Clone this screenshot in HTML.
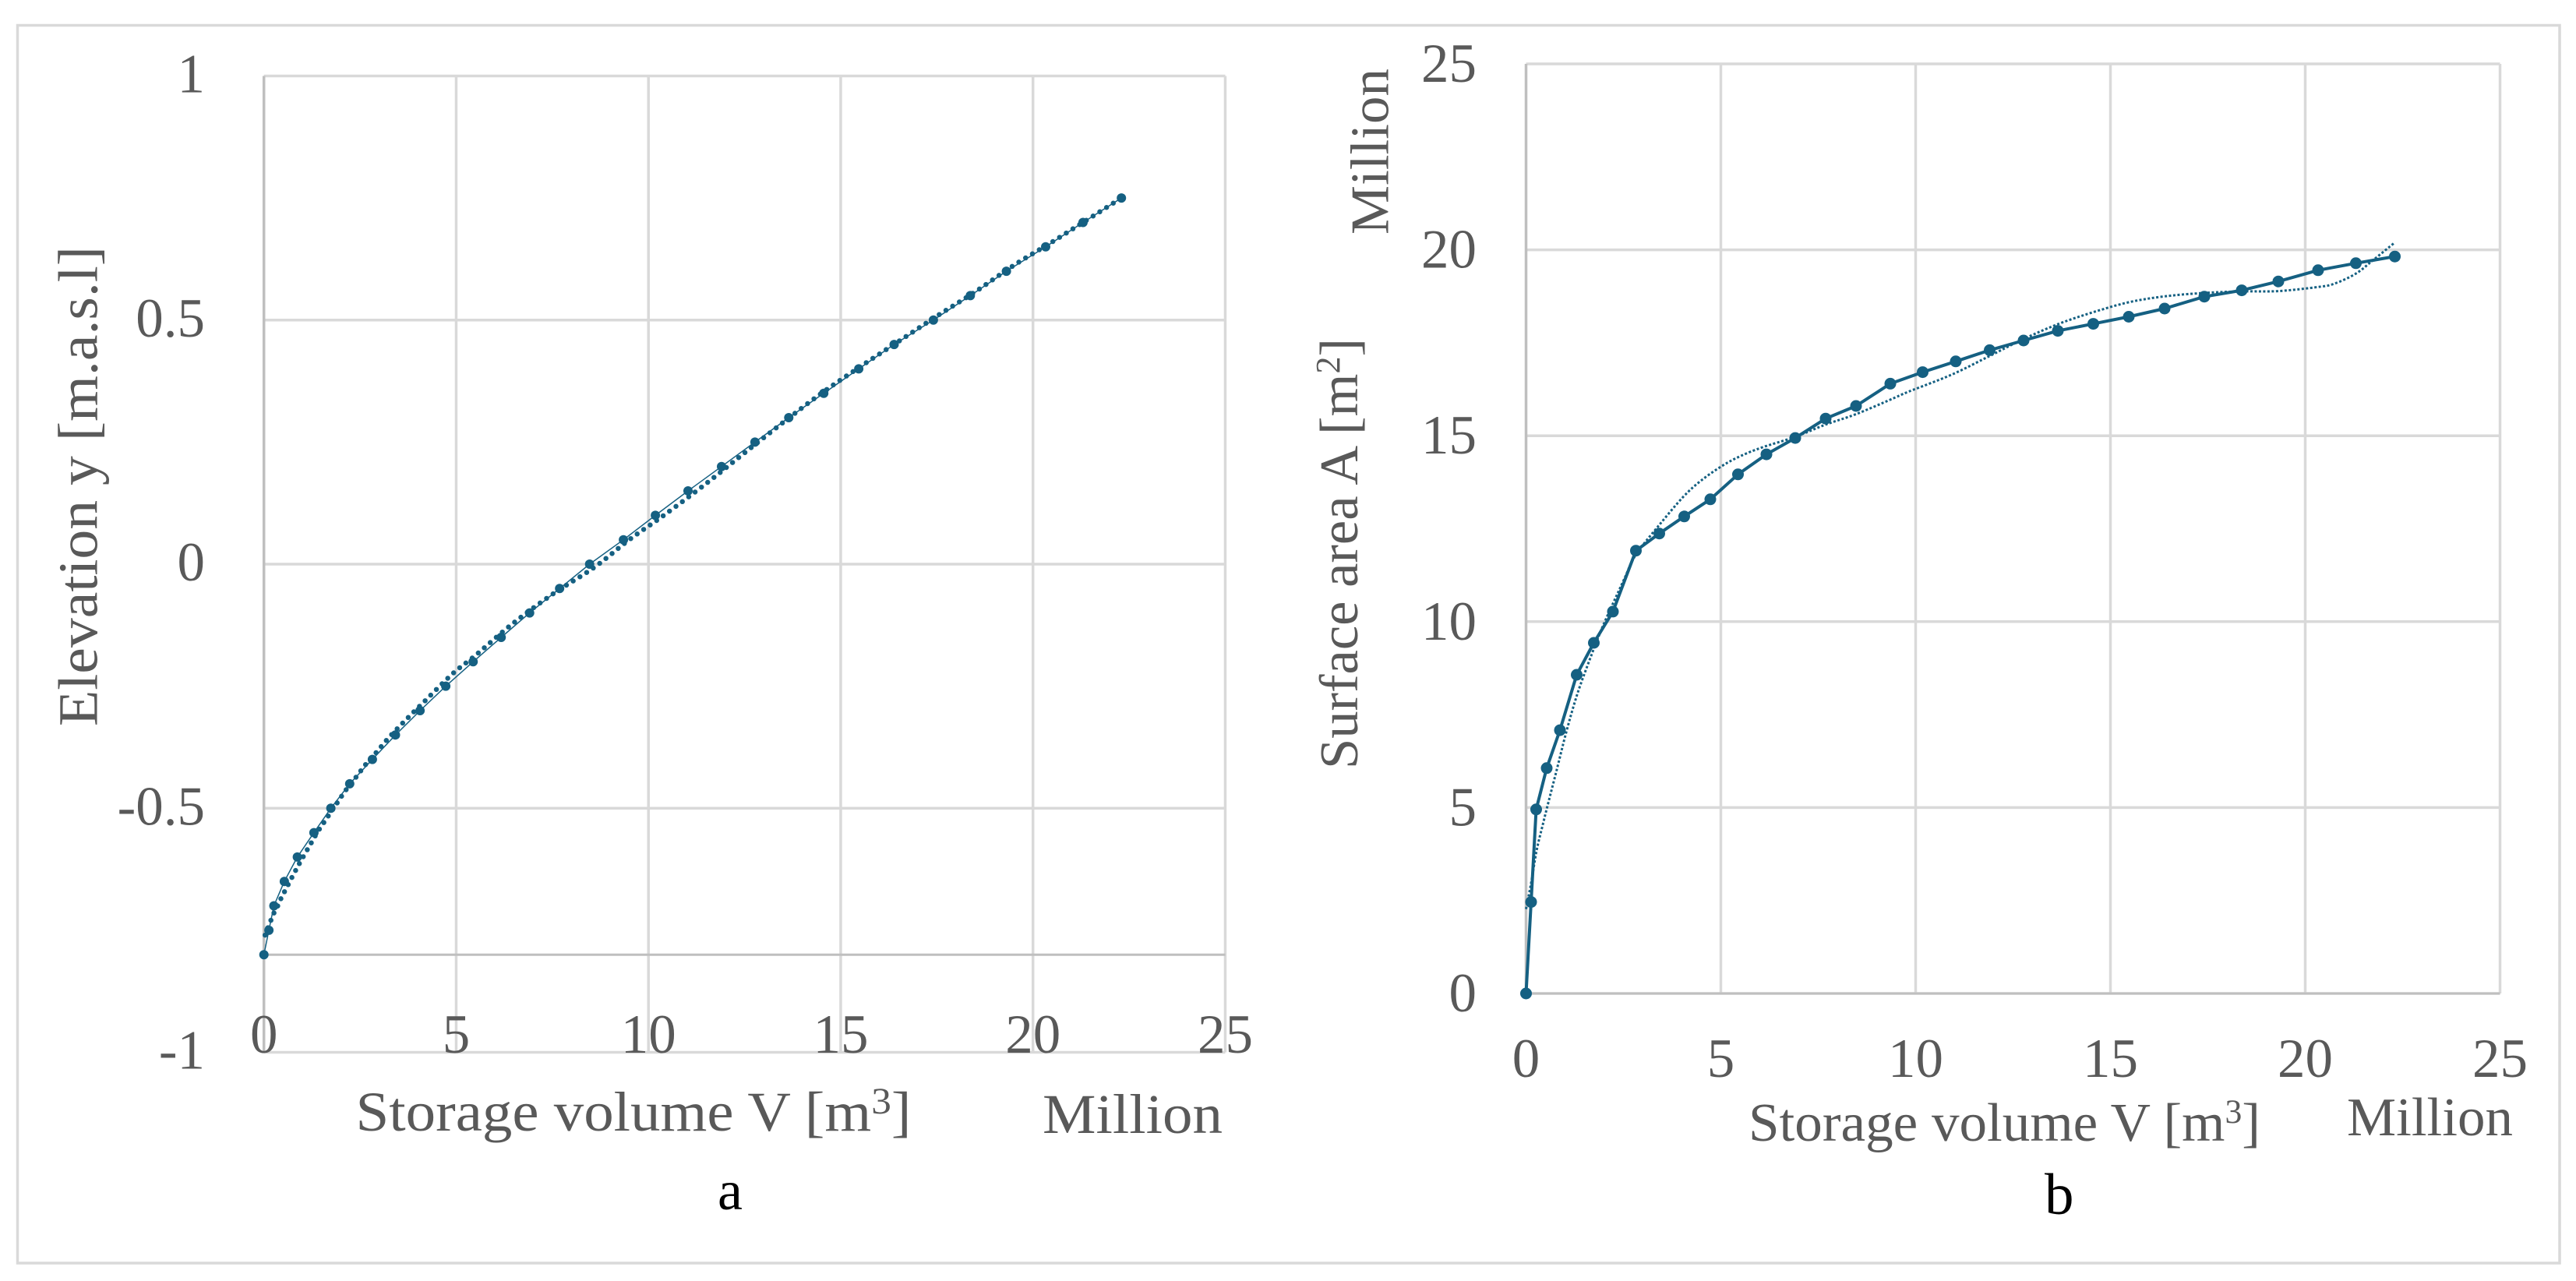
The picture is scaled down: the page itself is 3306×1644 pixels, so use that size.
<!DOCTYPE html>
<html lang="en">
<head>
<meta charset="utf-8">
<title>Storage volume curves</title>
<style>
html,body{margin:0;padding:0;background:#fff;}
svg{display:block;}
text{font-family:"Liberation Serif",serif;fill:#595959;}
</style>
</head>
<body>
<svg id="figure" xmlns="http://www.w3.org/2000/svg" width="3306" height="1644" viewBox="0 0 3306 1644">
  <rect x="0" y="0" width="3306" height="1644" fill="#fff"/>
  <rect x="22.5" y="32.5" width="3262.5" height="1588.5" fill="none" stroke="#d9d9d9" stroke-width="3.5"/>
  <g id="panelA"></g>
  <g id="panelB"></g>

  <text x="456.5" y="1451" font-size="72" textLength="713" lengthAdjust="spacingAndGlyphs">Storage volume V [m<tspan dy="-22" font-size="48">3</tspan><tspan dy="22">]</tspan></text>
  <text x="1338" y="1454" font-size="72" textLength="231" lengthAdjust="spacingAndGlyphs">Million</text>
  <text transform="translate(124.5,932) rotate(-90)" font-size="72" textLength="616" lengthAdjust="spacingAndGlyphs">Elevation y [m.a.s.l]</text>
  <text x="921" y="1552" font-size="72" style="fill:#000">a</text>

  <text x="2244" y="1464" font-size="70" textLength="657" lengthAdjust="spacingAndGlyphs">Storage volume V [m<tspan dy="-23" font-size="43">3</tspan><tspan dy="23">]</tspan></text>
  <text x="3012" y="1457" font-size="70" textLength="213" lengthAdjust="spacingAndGlyphs">Million</text>
  <text transform="translate(1742,987) rotate(-90)" font-size="70" textLength="553" lengthAdjust="spacingAndGlyphs">Surface area A [m<tspan dy="-23" font-size="44">2</tspan><tspan dy="23">]</tspan></text>
  <text transform="translate(1781.5,301) rotate(-90)" font-size="70" textLength="213" lengthAdjust="spacingAndGlyphs">Million</text>
  <text x="2624" y="1558" font-size="75" style="fill:#000">b</text>
</svg>
<script>
// Shared x values (million m3)
var volume = [0,0.13,0.26,0.53,0.87,1.3,1.74,2.23,2.82,3.42,4.06,4.73,5.44,6.17,6.91,7.69,8.47,9.35,10.18,11.03,11.9,12.77,13.65,14.56,15.47,16.39,17.41,18.37,19.31,20.33,21.3,22.3];
// Panel a: elevation (m a.s.l.)
var elevation = [-0.8,-0.75,-0.7,-0.65,-0.6,-0.55,-0.5,-0.45,-0.4,-0.35,-0.3,-0.25,-0.2,-0.15,-0.1,-0.05,0,0.05,0.1,0.15,0.2,0.25,0.3,0.35,0.4,0.45,0.5,0.55,0.6,0.65,0.7,0.75];
var elevationTrendVolume = [0.03,0.18,0.26,0.36,0.45,0.55,0.76,0.96,1.18,1.4,1.64,1.88,2.13,2.4,2.66,2.94,3.23,3.53,3.83,4.14,4.9,5.5,6.45,7.5,8.6,9.5,10.4,11.5,12.5,13.5,14.5,15.5,16.5,17.5,18.5,19.5,20.5,21.3,22.3];
var elevationTrend = [-0.76,-0.73,-0.715,-0.7,-0.684,-0.669,-0.637,-0.608,-0.578,-0.548,-0.52,-0.492,-0.463,-0.436,-0.409,-0.384,-0.357,-0.332,-0.308,-0.284,-0.225,-0.187,-0.123,-0.062,-0.006,0.05,0.1,0.165,0.228,0.29,0.35,0.404,0.456,0.508,0.558,0.612,0.66,0.7,0.75];
var xTicks = [0,5,10,15,20,25];
var elevationTicks = [-1,-0.5,0,0.5,1];
// Panel b: surface area (million m2)
var area = [0,2.46,4.95,6.06,7.08,8.57,9.43,10.27,11.91,12.37,12.83,13.29,13.96,14.5,14.94,15.46,15.8,16.4,16.71,17,17.3,17.56,17.82,18.01,18.2,18.42,18.74,18.91,19.15,19.45,19.64,19.82];
var areaTrendVolume = [0,0.13,0.27,0.43,0.53,0.77,1.03,1.3,1.57,1.8,2,2.5,2.82,3.42,4.03,4.5,5.05,5.5,6.07,6.91,7.69,8.47,9.35,9.83,10.92,11.89,12.77,13.65,14.55,15.47,16.4,17.4,18.37,19.31,20.33,20.75,21.3,21.74,22.28];
var areaTrend = [2.27,2.97,3.84,4.54,4.96,5.94,7.02,8,8.8,9.43,9.95,11.1,11.8,12.6,13.35,13.8,14.2,14.45,14.69,14.97,15.3,15.58,15.97,16.19,16.64,17.14,17.6,18,18.32,18.59,18.75,18.84,18.88,18.89,19,19.09,19.36,19.72,20.18];
var areaTicks = [0,5,10,15,20,25];

var NS = 'http://www.w3.org/2000/svg';
var SERIES = '#156082';
function svgEl(parent, tag, props) {
  var el = document.createElementNS(NS, tag);
  for (var k in props) { el.setAttribute(k, props[k]); }
  parent.appendChild(el);
  return el;
}
function pathFrom(xs, ys, fx, fy) {
  return xs.map(function (v, i) { return (i ? 'L' : 'M') + fx(v).toFixed(1) + ' ' + fy(ys[i]).toFixed(1); }).join(' ');
}
// Smooth curve through the read points (Catmull-Rom converted to cubic Beziers)
function smoothFrom(xs, ys, fx, fy) {
  var p = xs.map(function (v, i) { return [fx(v), fy(ys[i])]; });
  var d = 'M' + p[0][0].toFixed(1) + ' ' + p[0][1].toFixed(1);
  for (var i = 0; i < p.length - 1; i++) {
    var a = p[Math.max(i - 1, 0)], b = p[i], c = p[i + 1], e = p[Math.min(i + 2, p.length - 1)];
    d += ' C' + (b[0] + (c[0] - a[0]) / 6).toFixed(1) + ' ' + (b[1] + (c[1] - a[1]) / 6).toFixed(1) +
         ' ' + (c[0] - (e[0] - b[0]) / 6).toFixed(1) + ' ' + (c[1] - (e[1] - b[1]) / 6).toFixed(1) +
         ' ' + c[0].toFixed(1) + ' ' + c[1].toFixed(1);
  }
  return d;
}

function xA(v) { return 338.7 + v * 49.35; }
function yA(e) { return 724 - e * 626.5; }
function xB(v) { return 1958.5 + v * 50; }
function yB(a) { return 1275 - a * 47.72; }

function drawPanel(cfg) {
  var g = document.getElementById(cfg.id);
  var el;
  var xMin = xTicks[0], xMax = xTicks[xTicks.length - 1];
  var yMin = cfg.yTicks[0], yMax = cfg.yTicks[cfg.yTicks.length - 1];

  cfg.yTicks.forEach(function (t) {
    el = svgEl(g, 'line', {x1: cfg.fx(xMin), x2: cfg.fx(xMax), y1: cfg.fy(t), y2: cfg.fy(t), stroke: '#d9d9d9', 'stroke-width': 3.5});
    
    
  });
  xTicks.forEach(function (t) {
    if (t === xMin) { return; }
    el = svgEl(g, 'line', {x1: cfg.fx(t), x2: cfg.fx(t), y1: cfg.fy(yMin), y2: cfg.fy(yMax), stroke: '#d9d9d9', 'stroke-width': 3.5});
    
    
  });

  el = svgEl(g, 'line', {x1: cfg.fx(0), x2: cfg.fx(0), y1: cfg.fy(yMin), y2: cfg.fy(yMax), stroke: '#bfbfbf', 'stroke-width': 3.5});
  
  
  el = svgEl(g, 'line', {x1: cfg.fx(xMin), x2: cfg.fx(xMax), y1: cfg.fy(cfg.crossAt), y2: cfg.fy(cfg.crossAt), stroke: '#bfbfbf', 'stroke-width': 3});
  
  

  cfg.yTicks.forEach(function (t) {
    el = svgEl(g, 'text', {x: cfg.yLabelX, y: cfg.fy(t) + cfg.yLabelDy, 'text-anchor': 'end', 'font-size': 71});
    el.textContent = String(t);
    
    
  });
  xTicks.forEach(function (t) {
    el = svgEl(g, 'text', {x: cfg.fx(t), y: cfg.xLabelY, 'text-anchor': 'middle', 'font-size': 71});
    el.textContent = String(t);
    
    
  });

  el = svgEl(g, 'path', {d: pathFrom(volume, cfg.values, cfg.fx, cfg.fy), fill: 'none', stroke: SERIES, 'stroke-width': cfg.lineWidth, 'stroke-linejoin': 'round'});
  
  

  el = svgEl(g, 'path', {d: smoothFrom(cfg.trendX, cfg.trendY, cfg.fx, cfg.fy), fill: 'none', stroke: SERIES, 'stroke-width': cfg.dotWidth, 'stroke-linecap': cfg.dotCap, 'stroke-dasharray': cfg.dotDash});
  
  

  volume.forEach(function (v, i) {
    el = svgEl(g, 'circle', {cx: cfg.fx(v).toFixed(1), cy: cfg.fy(cfg.values[i]).toFixed(1), r: cfg.markerR, fill: SERIES});
    
    
  });
}

drawPanel({id: 'panelA', fx: xA, fy: yA, yTicks: elevationTicks, crossAt: -0.8, yLabelX: 263, yLabelDy: 21, xLabelY: 1351,
  values: elevation, trendX: elevationTrendVolume, trendY: elevationTrend, lineWidth: 1.5, dotWidth: 6.5, dotCap: 'round', dotDash: '0 10.2', markerR: 6});
drawPanel({id: 'panelB', fx: xB, fy: yB, yTicks: areaTicks, crossAt: 0, yLabelX: 1895, yLabelDy: 23, xLabelY: 1382,
  values: area, trendX: areaTrendVolume, trendY: areaTrend, lineWidth: 4, dotWidth: 3, dotCap: 'butt', dotDash: '3 2.5', markerR: 7.5});
</script>
</body>
</html>
